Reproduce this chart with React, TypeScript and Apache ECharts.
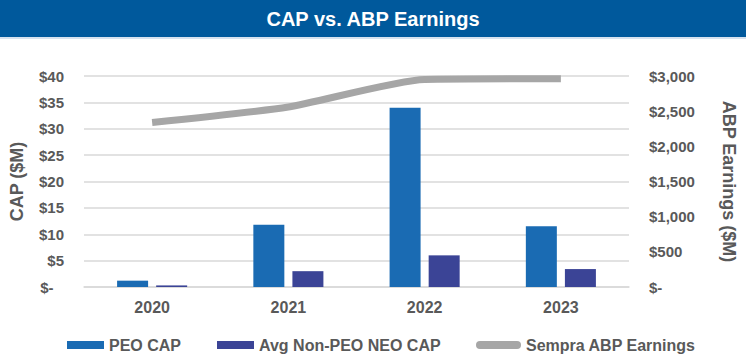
import React, { useEffect, useRef } from "react";
import * as echarts from "echarts";

const categories = ["2020", "2021", "2022", "2023"];
const peoCap = [1.2, 11.8, 34.0, 11.5];
const avgNonPeoCap = [0.3, 3.0, 6.0, 3.4];
const abpEarnings = [2340, 2560, 2950, 2960];
const seriesNames = ["PEO CAP", "Avg Non-PEO NEO CAP", "Sempra ABP Earnings"];

const FONT = "'Liberation Sans', Arial, sans-serif";
const GRAY = "#595959";

export default function App() {
  const ref = useRef<HTMLDivElement>(null);
  useEffect(() => {
    if (!ref.current) return;
    const chart = echarts.init(ref.current, undefined, { renderer: "svg" });
    const legendText = { fontSize: 16, fontWeight: "bold" as const, color: GRAY, fontFamily: FONT };
    chart.setOption({
      animation: false,
      textStyle: { fontFamily: FONT },
      graphic: [
        { type: "rect", shape: { x: 0, y: 0, width: 746, height: 37 }, style: { fill: "#00599C" }, z: 0 },
        { type: "rect", shape: { x: 0, y: 37, width: 746, height: 2 }, style: { fill: "#D6E2EF" }, z: 0 },
        {
          type: "text",
          x: 373,
          y: 19,
          z: 1,
          style: {
            text: "CAP vs. ABP Earnings",
            fill: "#ffffff",
            font: `bold 20px ${FONT}`,
            textAlign: "center",
            textVerticalAlign: "middle",
          },
        },
      ],
      grid: { left: 83, right: 111, top: 76, bottom: 71 },
      legend: [
        {
          left: 62, top: 332, itemWidth: 37, itemHeight: 8, itemGap: 10,
          data: [{ name: seriesNames[0], icon: "rect" }], textStyle: legendText,
        },
        {
          left: 212, top: 332, itemWidth: 37, itemHeight: 8,
          data: [{ name: seriesNames[1], icon: "rect" }], textStyle: legendText,
        },
        {
          left: 471, top: 332, itemWidth: 45, itemHeight: 8,
          data: [{ name: seriesNames[2], icon: "path://M4,0 H41 A4,4 0 0 1 41,8 H4 A4,4 0 0 1 4,0 Z", itemStyle: { color: "#A6A6A6" } }],
          textStyle: legendText,
        },
      ],
      xAxis: {
        type: "category",
        data: categories,
        axisTick: { show: false },
        axisLine: { lineStyle: { color: "#D9D9D9", width: 1.5 } },
        axisLabel: { fontSize: 16, fontWeight: "bold", color: GRAY, margin: 12, fontFamily: FONT },
      },
      yAxis: [
        {
          type: "value",
          min: 0,
          max: 40,
          interval: 5,
          name: "CAP ($M)",
          nameLocation: "middle",
          nameRotate: 90,
          nameGap: 58,
          nameTextStyle: { fontSize: 18, fontWeight: "bold", color: GRAY, fontFamily: FONT },
          axisLabel: {
            fontSize: 15, fontWeight: "bold", color: GRAY, margin: 20, fontFamily: FONT,
            formatter: (v: number) => (v === 0 ? "$-\u2002\u2009" : "$" + v),
          },
          splitLine: { lineStyle: { color: "#D9D9D9", width: 1.5 } },
          axisLine: { show: false },
          axisTick: { show: false },
        },
        {
          type: "value",
          min: 0,
          max: 3000,
          interval: 500,
          name: "ABP Earnings ($M)",
          nameLocation: "middle",
          nameRotate: -90,
          nameGap: 91,
          nameTextStyle: { fontSize: 18, fontWeight: "bold", color: GRAY, fontFamily: FONT },
          axisLabel: {
            fontSize: 15, fontWeight: "bold", color: GRAY, margin: 20, fontFamily: FONT,
            formatter: (v: number) => (v === 0 ? "$-" : "$" + v.toLocaleString("en-US")),
          },
          splitLine: { show: false },
          axisLine: { show: false },
          axisTick: { show: false },
        },
      ],
      series: [
        {
          name: seriesNames[0], type: "bar", data: peoCap, barWidth: 31, barGap: "26%",
          itemStyle: { color: "#1A6BB3" },
        },
        {
          name: seriesNames[1], type: "bar", data: avgNonPeoCap, barWidth: 31,
          itemStyle: { color: "#3B4496" },
        },
        {
          name: seriesNames[2], type: "line", yAxisIndex: 1, data: abpEarnings, smooth: 0.2,
          symbol: "none", lineStyle: { color: "#A6A6A6", width: 7 }, itemStyle: { color: "#A6A6A6" },
        },
      ],
    });
    return () => chart.dispose();
  }, []);
  return (
    <div
      ref={ref}
      style={{ position: "fixed", left: 0, top: 0, width: 746, height: 358, background: "#ffffff" }}
    />
  );
}
